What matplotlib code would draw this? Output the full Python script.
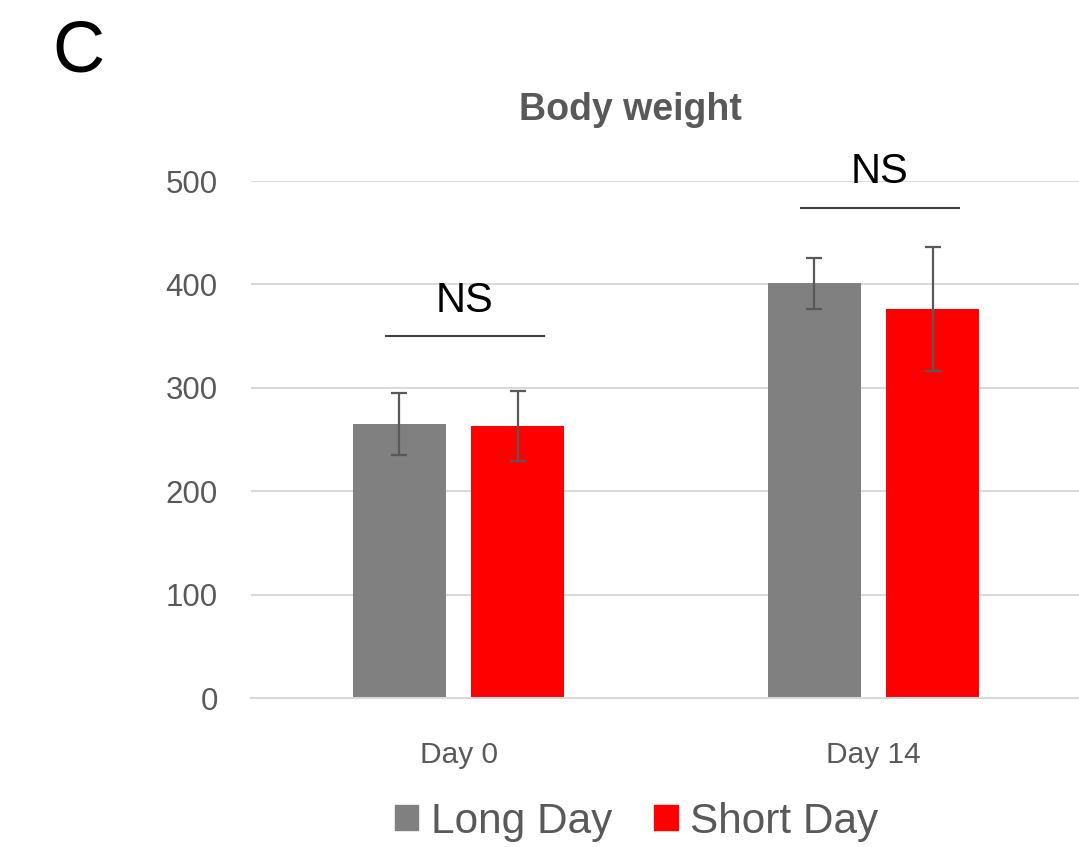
import numpy as np
import matplotlib
matplotlib.use("Agg")
import matplotlib.pyplot as plt
from matplotlib.patches import Patch

plt.rcParams['font.family'] = ['Liberation Sans', 'DejaVu Sans']

# body weight (g), mean and SD per group
days = ['Day 0', 'Day 14']
long_day = [265, 401]
long_day_err = [30, 25]
short_day = [263, 376]
short_day_err = [34, 60]
ns_levels = [350, 474]

GRAY = '#808080'
RED = '#ff0000'
TEXT = '#595959'

fig = plt.figure(figsize=(10.79, 8.47), dpi=100)
ax = fig.add_axes([251 / 1079, 0.1759, 830 / 1079, 0.6104])

x = np.arange(len(days))
w = 0.225
off = 0.1425
ax.bar(x - off, long_day, w, color=GRAY, zorder=2)
ax.bar(x + off, short_day, w, color=RED, zorder=2)
ax.errorbar(x - off, long_day, yerr=long_day_err, fmt='none', ecolor=TEXT,
            elinewidth=1.6, capsize=6, capthick=1.6, zorder=3)
ax.errorbar(x + off, short_day, yerr=short_day_err, fmt='none', ecolor=TEXT,
            elinewidth=1.6, capsize=6, capthick=1.6, zorder=3)

# significance brackets
for xi, lvl in zip(x, ns_levels):
    ax.plot([xi - 0.175, xi + 0.205], [lvl, lvl], color='#404040', lw=1.5, zorder=3)
    ax.text(xi + 0.015, lvl + 15, 'NS', ha='center', va='bottom', fontsize=30, color='black')

ax.set_xlim(-0.5, 1.5)
ax.set_ylim(0, 500)
ax.set_yticks(range(0, 501, 100))
ax.set_xticks(x)
ax.set_xticklabels(days)
ax.yaxis.grid(True, color='#d9d9d9', lw=1.5, zorder=0)
ax.set_axisbelow(True)
for s in ['top', 'right', 'left']:
    ax.spines[s].set_visible(False)
ax.spines['bottom'].set_color('#d9d9d9')
ax.spines['bottom'].set_linewidth(1.5)
ax.tick_params(axis='y', length=0, pad=24, labelsize=22.5, labelcolor=TEXT)
ax.tick_params(axis='x', length=0, pad=31, labelsize=21.5, labelcolor=TEXT)

fig.text(0.584, 0.870, 'Body weight', ha='center', va='center', fontsize=27,
         fontweight='bold', color=TEXT)
fig.text(0.049, 0.938, 'C', ha='left', va='center', fontsize=52, color='black')

handles = [Patch(color=GRAY, label='Long Day'), Patch(color=RED, label='Short Day')]
fig.legend(handles=handles, loc='center', bbox_to_anchor=(0.59, 0.03), ncol=2,
           frameon=False, fontsize=30.5, labelcolor=TEXT, handlelength=0.55,
           handleheight=0.55, handletextpad=0.3, columnspacing=1.0)

fig.savefig('out.png', dpi=100)
